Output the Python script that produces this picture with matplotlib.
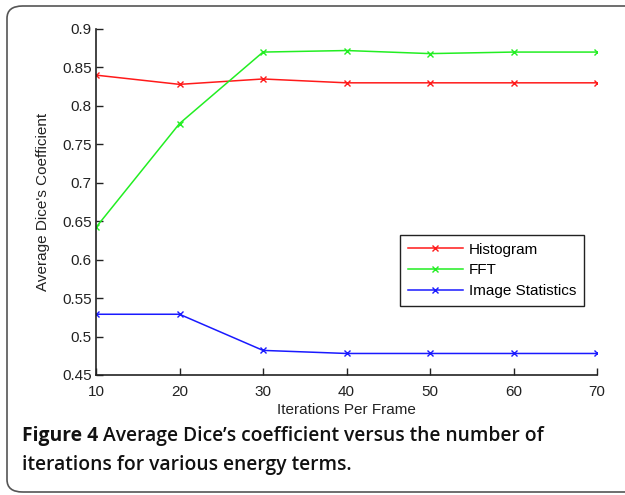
import matplotlib
matplotlib.use("Agg")
import matplotlib.pyplot as plt
from matplotlib.patches import FancyBboxPatch
from matplotlib import font_manager

iterations = [10, 20, 30, 40, 50, 60, 70]
histogram = [0.840, 0.828, 0.835, 0.830, 0.830, 0.830, 0.830]
fft = [0.642, 0.777, 0.870, 0.872, 0.868, 0.870, 0.870]
image_stats = [0.529, 0.529, 0.482, 0.478, 0.478, 0.478, 0.478]
series_names = ["Histogram", "FFT", "Image Statistics"]
series_colors = ["#ff1a1a", "#22ee22", "#1a1aff"]
y_ticks = [0.45, 0.5, 0.55, 0.6, 0.65, 0.7, 0.75, 0.8, 0.85, 0.9]
y_ticklabels = ["0.45", "0.5", "0.55", "0.6", "0.65", "0.7", "0.75", "0.8", "0.85", "0.9"]

names = {f.name for f in font_manager.fontManager.ttflist}
narrow = 'Liberation Sans Narrow' in names
plt.rcParams['font.family'] = (['Liberation Sans Narrow'] if narrow else []) + ['Liberation Sans', 'DejaVu Sans']
fs = 13 if narrow else 11

fig = plt.figure(figsize=(6.25, 4.95), dpi=100)

frame = FancyBboxPatch((7/625, 1 - 492/495), 1.2, (492 - 6)/495,
                       boxstyle="round,pad=0,rounding_size=0.025",
                       transform=fig.transFigure, fill=False,
                       edgecolor="#555555", linewidth=1.2, clip_on=False)
fig.patches.append(frame)

ax = fig.add_axes([96/625, 1 - 375/495, (597 - 96)/625, (375 - 29)/495])
for vals, name, col in zip([histogram, fft, image_stats], series_names, series_colors):
    ax.plot(iterations, vals, color=col, marker='x', markersize=5,
            markeredgewidth=1.0, linewidth=1.1, label=name)

ax.set_xlim(10, 70)
ax.set_ylim(0.45, 0.9)
ax.set_xticks(iterations)
ax.set_xticklabels([str(v) for v in iterations])
ax.set_yticks(y_ticks)
ax.set_yticklabels(y_ticklabels)
for s in ['top', 'right']:
    ax.spines[s].set_visible(False)
for s in ['left', 'bottom']:
    ax.spines[s].set_color('#222222')
    ax.spines[s].set_linewidth(1.2)
ax.tick_params(direction='in', length=5, width=1, labelsize=fs, colors='#222222', pad=3)
ax.tick_params(axis='x', pad=7)
ax.set_xlabel("Iterations Per Frame", fontsize=fs, color='#222222', labelpad=3)
ax.set_ylabel("Average Dice's Coefficient", fontsize=fs, color='#222222', labelpad=9)

leg = ax.legend(loc='upper left', bbox_to_anchor=(0.607, 0.405), fontsize=fs,
                frameon=True, fancybox=False, edgecolor='#222222', framealpha=1,
                handlelength=3.6, numpoints=1, borderpad=0.5, labelspacing=0.45,
                handletextpad=0.4, borderaxespad=0)
leg.get_frame().set_linewidth(1.0)

cap_font = ['Open Sans', 'DejaVu Sans']
cfs = 13.9
t1 = fig.text(22/625, 1 - 441/495, "Figure 4", fontsize=cfs, fontweight='bold',
              family=cap_font, va='baseline', color='#111111')
fig.canvas.draw()
bb = t1.get_window_extent()
x2 = (bb.x1 + 5) / fig.bbox.width
fig.text(x2, 1 - 441/495, "Average Dice\u2019s coefficient versus the number of",
         fontsize=cfs, fontweight='semibold', family=cap_font, va='baseline', color='#111111')
fig.text(22/625, 1 - 470/495, "iterations for various energy terms.",
         fontsize=cfs, fontweight='semibold', family=cap_font, va='baseline', color='#111111')

fig.savefig("out.png", dpi=100)
